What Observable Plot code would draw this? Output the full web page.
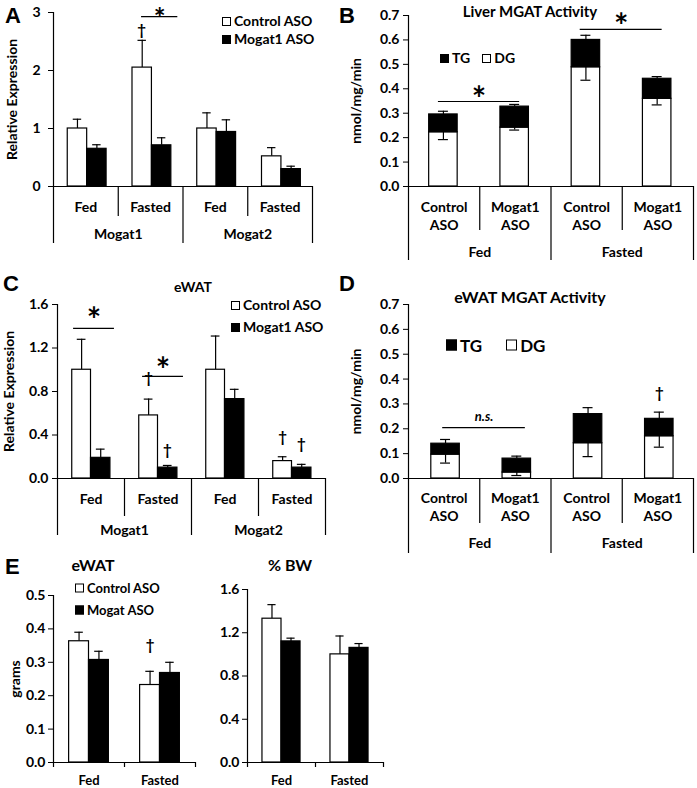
<!DOCTYPE html>
<html><head><meta charset="utf-8">
<script src="https://cdn.jsdelivr.net/npm/d3@7"></script>
<script src="https://cdn.jsdelivr.net/npm/@observablehq/plot@0.6"></script>
<style>
body{margin:0;background:#fff;}
#root{position:relative;width:697px;height:788px;font-family:Lato,"Open Sans",sans-serif;font-weight:bold;color:#000;overflow:hidden;background:#fff}
.letter{position:absolute;font-family:"Liberation Sans",Arial,sans-serif;font-weight:bold;font-size:22px;line-height:1}
.t{position:absolute;transform:translate(-50%,-50%);white-space:nowrap;line-height:1}
.lg{position:absolute;white-space:nowrap;line-height:1;display:flex;align-items:center;transform:translateY(-50%)}
.sq{display:inline-block;border:1.3px solid #000;box-sizing:border-box;margin-right:3px;background:#fff}
.sq.k{background:#000}
</style></head><body><div id="root"></div><script>
// ---------- Panel A: relative expression (liver) ----------
const aStates = ["Fed", "Fasted", "Fed", "Fasted"];
const aGenes = ["Mogat1", "Mogat2"];
const aControl = [1.00, 2.05, 1.00, 0.52];
const aControlSE = [0.16, 0.47, 0.27, 0.15];
const aMogat1 = [0.65, 0.71, 0.94, 0.30];
const aMogat1SE = [0.07, 0.13, 0.21, 0.05];
const aTicks = [0, 1, 2, 3];

// ---------- Panel B: liver MGAT activity ----------
const bTreatments = ["Control\nASO", "Mogat1\nASO", "Control\nASO", "Mogat1\nASO"];
const bStates = ["Fed", "Fasted"];
const bDG = [0.222, 0.241, 0.488, 0.359];
const bDGSE = [0.030, 0.010, 0.053, 0.025];
const bTG = [0.073, 0.086, 0.112, 0.082];
const bTotalSE = [0.013, 0.009, 0.019, 0.009];
const bTicks = [0, 0.1, 0.2, 0.3, 0.4, 0.5, 0.6, 0.7];

// ---------- Panel C: relative expression (eWAT) ----------
const cStates = ["Fed", "Fasted", "Fed", "Fasted"];
const cGenes = ["Mogat1", "Mogat2"];
const cControl = [1.00, 0.58, 1.00, 0.16];
const cControlSE = [0.28, 0.15, 0.31, 0.04];
const cMogat1 = [0.19, 0.10, 0.73, 0.10];
const cMogat1SE = [0.08, 0.02, 0.09, 0.03];
const cTicks = [0, 0.4, 0.8, 1.2, 1.6];

// ---------- Panel D: eWAT MGAT activity ----------
const dTreatments = ["Control\nASO", "Mogat1\nASO", "Control\nASO", "Mogat1\nASO"];
const dStates = ["Fed", "Fasted"];
const dDG = [0.096, 0.024, 0.142, 0.170];
const dDGSE = [0.034, 0.012, 0.054, 0.044];
const dTG = [0.044, 0.056, 0.117, 0.070];
const dTotalSE = [0.017, 0.010, 0.026, 0.027];
const dTicks = [0, 0.1, 0.2, 0.3, 0.4, 0.5, 0.6, 0.7];

// ---------- Panel E: eWAT mass ----------
const eStates = ["Fed", "Fasted"];
const eGramsControl = [0.363, 0.232];
const eGramsControlSE = [0.027, 0.041];
const eGramsMogat = [0.307, 0.268];
const eGramsMogatSE = [0.026, 0.032];
const eGramsTicks = [0, 0.1, 0.2, 0.3, 0.4, 0.5];
const eBWControl = [1.33, 1.00];
const eBWControlSE = [0.13, 0.17];
const eBWMogat = [1.12, 1.06];
const eBWMogatSE = [0.03, 0.04];
const eBWTicks = [0, 0.4, 0.8, 1.2, 1.6];

// ---------- significance annotations (category-index / value units) ----------
const aStars = [{x1: 1.36, x2: 1.92, y: 2.93, starY: 3.0}];
const aDaggers = [{x: 1.36, y: 2.70}];
const bStars = [{x1: 0.42, x2: 1.56, y: 0.348, starY: 0.387}, {x1: 2.41, x2: 3.56, y: 0.643, starY: 0.684}];
const cStars = [{x1: 0.24, x2: 0.85, y: 1.38, starY: 1.52}, {x1: 1.27, x2: 1.88, y: 0.94, starY: 1.06}];
const cDaggers = [{x: 1.36, y: 0.92}, {x: 1.64, y: 0.26}, {x: 3.36, y: 0.38}, {x: 3.64, y: 0.32}];
const dNS = [{x1: 0.48, x2: 1.64, y: 0.205, textY: 0.25}];
const dDaggers = [{x: 3.52, y: 0.345}];
const eDaggers = [{x: 1.36, y: 0.35}];

const FONT = "Lato, 'Open Sans', sans-serif";
const root = document.getElementById("root");

function put(html, cls, left, top, extra) {
  const el = document.createElement("div");
  el.className = cls;
  el.innerHTML = html;
  el.style.left = left + "px";
  el.style.top = top + "px";
  if (extra) Object.assign(el.style, extra);
  root.appendChild(el);
  return el;
}
function legend(left, top, items, size, font, gap) {
  return put(items.map((it, k) =>
    `<span class="sq${it.dark ? " k" : ""}" style="width:${size}px;height:${size}px"></span><span style="margin-right:${k < items.length - 1 ? gap : 0}px">${it.label}</span>`
  ).join(""), "lg", left, top, {fontSize: font + "px"});
}

function pairBars(ctl, ctlE, trt, trtE, L, cap, sw) {
  const rows = d3.range(ctl.length);
  const errs = rows.flatMap(i => [
    {c: i + (L[0] + L[1]) / 2, y: ctl[i], e: ctl[i] + ctlE[i]},
    {c: i + (L[1] + L[2]) / 2, y: trt[i], e: trt[i] + trtE[i]}
  ]);
  return [
    Plot.ruleX(errs, {x: "c", y1: "y", y2: "e", stroke: "black", strokeWidth: sw}),
    Plot.ruleY(errs, {y: "e", x1: d => d.c - cap, x2: d => d.c + cap, stroke: "black", strokeWidth: sw}),
    Plot.rect(rows, {x1: i => i + L[0], x2: i => i + L[1], y1: 0, y2: i => ctl[i], fill: "white", stroke: "black", strokeWidth: sw}),
    Plot.rect(rows, {x1: i => i + L[1], x2: i => i + L[2], y1: 0, y2: i => trt[i], fill: "black", stroke: "black", strokeWidth: sw})
  ];
}

function stackBars(dg, dgE, tg, totE, L, cap, sw) {
  const rows = d3.range(dg.length);
  const c = i => i + (L[0] + L[1]) / 2;
  const down = rows.map(i => ({c: c(i), y: dg[i], e: dg[i] - dgE[i]}));
  const up = rows.map(i => ({c: c(i), y: dg[i] + tg[i], e: dg[i] + tg[i] + totE[i]}));
  const errs = down.concat(up);
  return [
    Plot.rect(rows, {x1: i => i + L[0], x2: i => i + L[1], y1: 0, y2: i => dg[i], fill: "white", stroke: "black", strokeWidth: sw}),
    Plot.rect(rows, {x1: i => i + L[0], x2: i => i + L[1], y1: i => dg[i], y2: i => dg[i] + tg[i], fill: "black", stroke: "black", strokeWidth: sw}),
    Plot.ruleX(errs, {x: "c", y1: "y", y2: "e", stroke: "black", strokeWidth: sw}),
    Plot.ruleY(errs, {y: "e", x1: d => d.c - cap, x2: d => d.c + cap, stroke: "black", strokeWidth: sw})
  ];
}

function hierAxis(o) {
  const below = p => -p * o.yMax / o.plotH;
  const n = o.subs.length;
  const edges = d3.range(n + 1);
  return [
    Plot.ruleY([0], {x1: 0, x2: n, stroke: "black", strokeWidth: 1.2}),
    Plot.ruleX([0], {y1: 0, y2: o.yMax, stroke: "black", strokeWidth: 1.2}),
    Plot.ruleX(edges.filter(i => i % 2 === 0), {y1: below(o.longPx), y2: 0, stroke: "black", strokeWidth: 1.2}),
    Plot.ruleX(edges.filter(i => i % 2 === 1), {y1: below(o.shortPx), y2: 0, stroke: "black", strokeWidth: 1.2}),
    Plot.text(o.subs, {x: (d, i) => i + 0.5, y: 0, dy: o.subDy, text: d => d, fontSize: o.subFont, lineHeight: o.lineHeight || 1.2}),
    Plot.text(o.supers, {x: (d, i) => 2 * i + 1, y: 0, dy: o.supDy, text: d => d, fontSize: o.supFont})
  ];
}

function simpleAxis(o) {
  const below = p => -p * o.yMax / o.plotH;
  const n = o.subs.length;
  return [
    Plot.ruleY([0], {x1: 0, x2: n, stroke: "black", strokeWidth: 1.2}),
    Plot.ruleX([0], {y1: 0, y2: o.yMax, stroke: "black", strokeWidth: 1.2}),
    Plot.ruleX(d3.range(n + 1), {y1: below(5), y2: 0, stroke: "black", strokeWidth: 1.2}),
    Plot.text(o.subs, {x: (d, i) => i + 0.5, y: 0, dy: o.subDy, text: d => d, fontSize: o.subFont})
  ];
}

// the asterisk glyph sits high in its em box: shift it so its visual centre lands on starY
function starMarks(list, starSize) {
  return [
    Plot.ruleY(list, {y: "y", x1: "x1", x2: "x2", stroke: "black", strokeWidth: 1.2}),
    Plot.text(list, {x: d => (d.x1 + d.x2) / 2, y: "starY", text: () => "*", fontSize: starSize, dy: 0.23 * starSize})
  ];
}
function daggerMarks(list, size) {
  return [Plot.text(list, {x: "x", y: "y", text: () => "\u2020", fontSize: size})];
}

function makePanel(o) {
  const svg = Plot.plot({
    width: o.width, height: o.height,
    marginLeft: o.ml, marginRight: o.mr, marginTop: o.mt, marginBottom: o.mb,
    x: {domain: [0, o.n], axis: null},
    y: {domain: [0, o.yMax], ticks: o.ticks, tickFormat: o.fmt, tickSize: 5, tickPadding: o.tickPadding ?? 4,
        label: o.label, labelAnchor: "center", labelArrow: "none", labelOffset: o.labelOffset},
    style: {fontFamily: FONT, fontWeight: "bold", fontSize: (o.fontSize || 13) + "px", color: "black", background: "transparent", overflow: "visible"},
    marks: o.marks
  });
  svg.style.position = "absolute";
  svg.style.left = o.left + "px";
  svg.style.top = o.top + "px";
  root.appendChild(svg);
}

// ---------- A ----------
{
  const width = 350, height = 270, ml = 53, mr = 38, mt = 12, mb = 84, yMax = 3;
  const plotH = height - mt - mb;
  makePanel({left: 0, top: 0, width, height, ml, mr, mt, mb, n: 4, yMax, ticks: aTicks, fmt: d3.format("d"),
    label: "Relative Expression", labelOffset: 46, tickPadding: 8, fontSize: 14,
    marks: [
      ...pairBars(aControl, aControlSE, aMogat1, aMogat1SE, [0.22, 0.52, 0.82], 0.065, 1.2),
      ...hierAxis({yMax, plotH, subs: aStates, supers: aGenes, shortPx: 30, longPx: 57, subDy: 20, supDy: 48, subFont: 14, supFont: 14}),
      ...starMarks(aStars, 28),
      ...daggerMarks(aDaggers, 15)
    ]});
  legend(222, 21, [{label: "Control ASO"}], 9, 14, 0);
  legend(222, 39, [{label: "Mogat1 ASO", dark: true}], 9, 14, 0);
}

// ---------- B ----------
{
  const width = 347, height = 270, ml = 58, mr = 4, mt = 15, mb = 84, yMax = 0.7;
  const plotH = height - mt - mb;
  makePanel({left: 350, top: 0, width, height, ml, mr, mt, mb, n: 4, yMax, ticks: bTicks, fmt: d3.format(".1f"),
    label: "nmol/mg/min", labelOffset: 57, tickPadding: 4, fontSize: 14,
    marks: [
      ...stackBars(bDG, bDGSE, bTG, bTotalSE, [0.29, 0.69], 0.07, 1.2),
      ...hierAxis({yMax, plotH, subs: bTreatments, supers: bStates, shortPx: 44, longPx: 74, subDy: 29, supDy: 66, subFont: 14, supFont: 14, lineHeight: 1.3}),
      ...starMarks(bStars, 34)
    ]});
  put("Liver MGAT Activity", "t", 530, 11, {fontSize: "15px"});
  legend(440, 58, [{label: "TG", dark: true}, {label: "DG"}], 9, 14, 12);
}

// ---------- C ----------
{
  const width = 350, height = 270, ml = 57, mr = 25, mt = 34, mb = 62, yMax = 1.6;
  const plotH = height - mt - mb;
  makePanel({left: 0, top: 270, width, height, ml, mr, mt, mb, n: 4, yMax, ticks: cTicks, fmt: d3.format(".1f"),
    label: "Relative Expression", labelOffset: 53, tickPadding: 4, fontSize: 14,
    marks: [
      ...pairBars(cControl, cControlSE, cMogat1, cMogat1SE, [0.22, 0.5, 0.79], 0.065, 1.2),
      ...hierAxis({yMax, plotH, subs: cStates, supers: cGenes, shortPx: 38, longPx: 57, subDy: 20, supDy: 52, subFont: 14, supFont: 14}),
      ...starMarks(cStars, 34),
      ...daggerMarks(cDaggers, 15)
    ]});
  put("eWAT", "t", 193, 287, {fontSize: "14px"});
  legend(231, 305, [{label: "Control ASO"}], 9, 14, 0);
  legend(231, 327, [{label: "Mogat1 ASO", dark: true}], 9, 14, 0);
}

// ---------- D ----------
{
  const width = 347, height = 290, ml = 58, mr = 4, mt = 34, mb = 82, yMax = 0.7;
  const plotH = height - mt - mb;
  makePanel({left: 350, top: 270, width, height, ml, mr, mt, mb, n: 4, yMax, ticks: dTicks, fmt: d3.format(".1f"),
    label: "nmol/mg/min", labelOffset: 57, tickPadding: 4, fontSize: 14,
    marks: [
      ...stackBars(dDG, dDGSE, dTG, dTotalSE, [0.32, 0.72], 0.07, 1.2),
      ...hierAxis({yMax, plotH, subs: dTreatments, supers: dStates, shortPx: 45, longPx: 75, subDy: 28, supDy: 65, subFont: 14, supFont: 14, lineHeight: 1.3}),
      Plot.ruleY(dNS, {y: "y", x1: "x1", x2: "x2", stroke: "black", strokeWidth: 1.2}),
      Plot.text(dNS, {x: d => (d.x1 + d.x2) / 2, y: "textY", text: () => "n.s.", fontStyle: "italic", fontSize: 13}),
      ...daggerMarks(dDaggers, 15)
    ]});
  put("eWAT MGAT Activity", "t", 530, 297, {fontSize: "16px"});
  legend(446, 345, [{label: "TG", dark: true}, {label: "DG"}], 11, 17, 24);
}

// ---------- E (grams) ----------
{
  const width = 200, height = 248, ml = 53, mr = 5, mt = 55, mb = 26, yMax = 0.5;
  const plotH = height - mt - mb;
  makePanel({left: 0, top: 540, width, height, ml, mr, mt, mb, n: 2, yMax, ticks: eGramsTicks, fmt: d3.format(".1f"),
    label: "grams", labelOffset: 43, tickPadding: 3, fontSize: 14,
    marks: [
      ...pairBars(eGramsControl, eGramsControlSE, eGramsMogat, eGramsMogatSE, [0.22, 0.5, 0.78], 0.06, 1.2),
      ...simpleAxis({yMax, plotH, subs: eStates, subDy: 18, subFont: 13}),
      ...daggerMarks(eDaggers, 15)
    ]});
  put("eWAT", "t", 93, 565, {fontSize: "16px"});
  legend(75, 588, [{label: "Control ASO"}], 9, 13, 0);
  legend(75, 610, [{label: "Mogat ASO", dark: true}], 9, 13, 0);
}

// ---------- E (% BW) ----------
{
  const width = 190, height = 248, ml = 47, mr = 7, mt = 49, mb = 26, yMax = 1.6;
  const plotH = height - mt - mb;
  makePanel({left: 200, top: 540, width, height, ml, mr, mt, mb, n: 2, yMax, ticks: eBWTicks, fmt: d3.format(".1f"),
    label: null, tickPadding: 3, fontSize: 14,
    marks: [
      ...pairBars(eBWControl, eBWControlSE, eBWMogat, eBWMogatSE, [0.22, 0.5, 0.78], 0.06, 1.2),
      ...simpleAxis({yMax, plotH, subs: eStates, subDy: 18, subFont: 13})
    ]});
  put("% BW", "t", 290, 565, {fontSize: "16px"});
}

// ---------- panel letters ----------
put("A", "letter", 5, 5);
put("B", "letter", 339, 5);
put("C", "letter", 3, 273);
put("D", "letter", 339, 273);
put("E", "letter", 5, 556);
</script></body></html>
